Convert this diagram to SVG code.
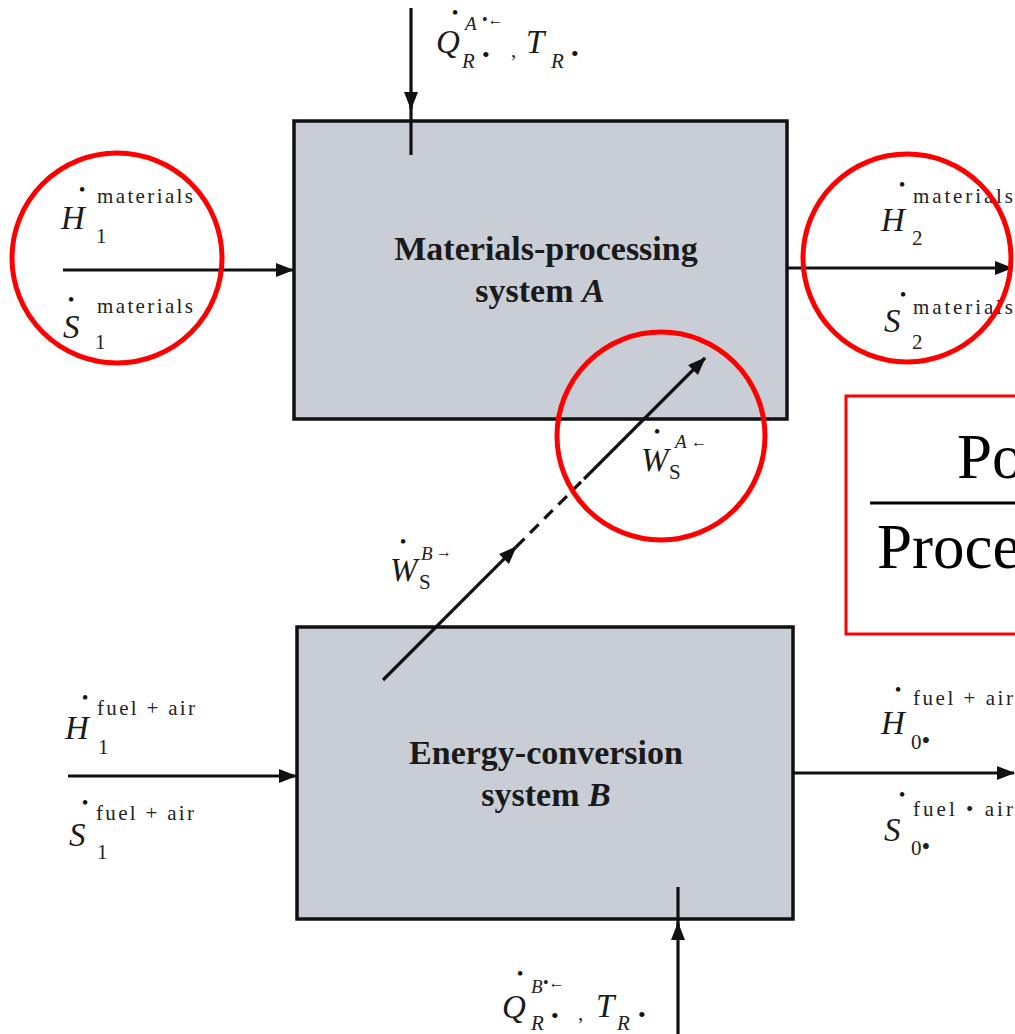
<svg xmlns="http://www.w3.org/2000/svg" width="1015" height="1034" viewBox="0 0 1015 1034">
<style>
.box{fill:#c9cdd6;stroke:#111;stroke-width:3.5}
.title{font-family:"Liberation Serif",serif;font-weight:bold;font-size:34px;fill:#1a1a1a;text-anchor:middle}
.flow{stroke:#111;stroke-width:3.2;fill:none}
.dash{stroke:#111;stroke-width:3.2;fill:none;stroke-dasharray:12 8}
.mv{font-family:"Liberation Serif",serif;font-style:italic;font-size:33px;fill:#1a1a1a}
.sup{font-family:"Liberation Serif",serif;font-size:21px;fill:#222}
.supi{font-family:"Liberation Serif",serif;font-style:italic;font-size:19px;fill:#222}
.sub{font-family:"Liberation Serif",serif;font-size:21px;fill:#222}
.subi{font-family:"Liberation Serif",serif;font-style:italic;font-size:21px;fill:#222}
.sm{font-family:"Liberation Serif",serif;font-size:16px;fill:#222}
.bul{font-family:"Liberation Serif",serif;font-size:22px;fill:#111}
.dot{font-family:"Liberation Serif",serif;font-size:19px;fill:#111;text-anchor:middle}
.red{fill:none;stroke:#f00;stroke-width:5}
.big{font-family:"Liberation Serif",serif;font-size:63px;fill:#000}
</style>
<defs>
<marker id="ah" markerUnits="userSpaceOnUse" markerWidth="18" markerHeight="14" refX="17" refY="7" orient="auto">
<path d="M0,0 L18,7 L0,14 Z" fill="#111"/>
</marker>
</defs>
<rect width="1015" height="1034" fill="#fff"/>

<g id="nodeA">
<rect class="box" x="294" y="121" width="493" height="298"/>
<text class="title" x="546" y="260">Materials-processing</text>
<text class="title" x="540" y="302">system <tspan font-style="italic">A</tspan></text>
</g>

<g id="nodeB">
<rect class="box" x="297" y="627" width="496" height="292"/>
<text class="title" x="546" y="764">Energy-conversion</text>
<text class="title" x="546" y="806">system <tspan font-style="italic">B</tspan></text>
</g>

<g id="connectors">
<line class="flow" x1="63" y1="270" x2="293" y2="270" marker-end="url(#ah)"/>
<line class="flow" x1="787" y1="268" x2="1012" y2="268" marker-end="url(#ah)"/>
<line class="flow" x1="411" y1="8" x2="411" y2="109" marker-end="url(#ah)"/>
<line class="flow" x1="411" y1="105" x2="411" y2="155"/>
<line class="flow" x1="68" y1="776" x2="296" y2="776" marker-end="url(#ah)"/>
<line class="flow" x1="793" y1="773" x2="1014" y2="773" marker-end="url(#ah)"/>
<line class="flow" x1="678" y1="1034" x2="678" y2="923" marker-end="url(#ah)"/>
<line class="flow" x1="678" y1="926" x2="678" y2="887"/>
<line class="flow" x1="383" y1="680" x2="516" y2="547" marker-end="url(#ah)"/>
<line class="dash" x1="516" y1="547" x2="584" y2="479"/>
<line class="flow" x1="584" y1="479" x2="705" y2="358" marker-end="url(#ah)"/>
</g>

<g id="label-H1-materials">
<text class="mv" x="61" y="229">H</text>
<text class="dot" x="82" y="196">•</text>
<text class="sup" x="97" y="203" textLength="96" lengthAdjust="spacing">materials</text>
<text class="sub" x="96" y="243">1</text>
</g>
<g id="label-S1-materials">
<text class="mv" x="63" y="338">S</text>
<text class="dot" x="71" y="306">•</text>
<text class="sup" x="97" y="313" textLength="96" lengthAdjust="spacing">materials</text>
<text class="sub" x="95" y="349">1</text>
</g>
<g id="label-H2-materials">
<text class="mv" x="881" y="231">H</text>
<text class="dot" x="902" y="191">•</text>
<text class="sup" x="913" y="203" textLength="100" lengthAdjust="spacing">materials</text>
<text class="sub" x="912" y="245">2</text>
</g>
<g id="label-S2-materials">
<text class="mv" x="884" y="332">S</text>
<text class="dot" x="903" y="301">•</text>
<text class="sup" x="913" y="314" textLength="100" lengthAdjust="spacing">materials</text>
<text class="sub" x="912" y="349">2</text>
</g>

<g id="label-Q-A">
<text class="mv" x="436" y="53">Q</text>
<text class="dot" x="455" y="19">•</text>
<text class="supi" x="465" y="30">A</text>
<text class="sm" x="482" y="25">•←</text>
<text class="subi" x="462" y="68">R</text>
<text class="bul" x="482" y="62">•</text>
<text class="sub" x="511" y="57">,</text>
<text class="mv" x="526" y="53">T</text>
<text class="subi" x="551" y="68">R</text>
<text class="bul" x="571" y="61">•</text>
</g>

<g id="label-W-A">
<text class="mv" x="641" y="471">W</text>
<text class="dot" x="657" y="438">•</text>
<text class="supi" x="675" y="448">A</text>
<text class="sm" x="691" y="447">←</text>
<text class="sub" x="669" y="479">S</text>
</g>
<g id="label-W-B">
<text class="mv" x="390" y="581">W</text>
<text class="dot" x="403" y="548">•</text>
<text class="supi" x="421" y="560">B</text>
<text class="sm" x="436" y="557">→</text>
<text class="sub" x="419" y="589">S</text>
</g>

<g id="label-H1-fuel">
<text class="mv" x="65" y="739">H</text>
<text class="dot" x="85" y="704">•</text>
<text class="sup" x="97" y="715" textLength="98" lengthAdjust="spacing">fuel + air</text>
<text class="sub" x="98" y="754">1</text>
</g>
<g id="label-S1-fuel">
<text class="mv" x="69" y="846">S</text>
<text class="dot" x="85" y="809">•</text>
<text class="sup" x="96" y="820" textLength="98" lengthAdjust="spacing">fuel + air</text>
<text class="sub" x="97" y="859">1</text>
</g>
<g id="label-H0-fuel">
<text class="mv" x="881" y="734">H</text>
<text class="dot" x="898" y="696">•</text>
<text class="sup" x="913" y="705" textLength="100" lengthAdjust="spacing">fuel + air</text>
<text class="sub" x="911" y="749">0<tspan font-size="25">•</tspan></text>
</g>
<g id="label-S0-fuel">
<text class="mv" x="884" y="841">S</text>
<text class="dot" x="902" y="801">•</text>
<text class="sup" x="913" y="816" textLength="100" lengthAdjust="spacing">fuel • air</text>
<text class="sub" x="911" y="855">0<tspan font-size="25">•</tspan></text>
</g>

<g id="label-Q-B">
<text class="mv" x="502" y="1018">Q</text>
<text class="dot" x="520" y="980">•</text>
<text class="supi" x="531" y="993">B</text>
<text class="sm" x="543" y="988">•←</text>
<text class="subi" x="531" y="1030">R</text>
<text class="bul" x="551" y="1023">•</text>
<text class="sub" x="578" y="1020">,</text>
<text class="mv" x="596" y="1017">T</text>
<text class="subi" x="617" y="1030">R</text>
<text class="bul" x="638" y="1022">•</text>
</g>

<g id="annotations">
<circle class="red" cx="117" cy="258" r="105"/>
<circle class="red" cx="907" cy="258" r="104"/>
<circle class="red" cx="661" cy="436" r="104"/>
<rect x="846" y="396" width="180" height="238" fill="none" stroke="#f00" stroke-width="3"/>
<text class="big" x="957" y="478">Po</text>
<line x1="870" y1="503" x2="1015" y2="503" stroke="#000" stroke-width="3"/>
<text class="big" x="877" y="568">Proce</text>
</g>
</svg>
